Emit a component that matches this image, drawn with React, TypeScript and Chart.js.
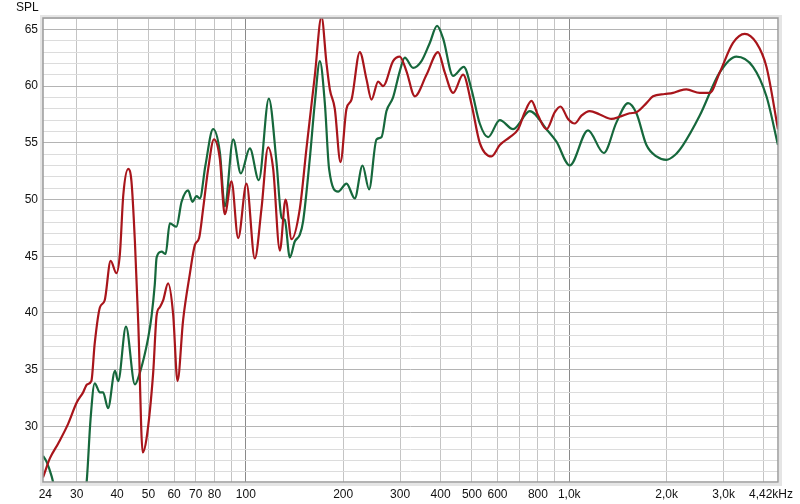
import React, { useEffect, useRef } from "react";
import { Chart, registerables } from "chart.js";

Chart.register(...registerables);

// Red trace (frequency Hz, SPL dB)
const RED_FREQ = [
  23.6, 24.8, 26.3, 28.2, 30.0, 31.4, 32.3, 33.3, 34.1, 35.4, 36.6, 38.2, 39.8, 40.8, 41.8, 43.3, 44.3,
  45.4, 46.5, 48.0, 49.3, 51.7, 53.0, 54.2, 55.5, 57.5, 59.6, 61.5, 64.0, 67.1, 69.6, 71.7, 73.8, 76.5,
  79.7, 83.1, 86.1, 90.3, 94.7, 100.5, 106.6, 111.8, 117.2, 121.5, 127.4, 132.7, 138.5, 146.9, 154.0,
  163.4, 171.4, 177.6, 181.9, 188.4, 196.2, 204.8, 212.2, 225.1, 236.1, 244.7, 256.5, 265.7, 285.3,
  299.2, 313.9, 333.0, 361.9, 393.0, 412.2, 437.3, 469.7, 498.6, 528.8, 574.8, 609.8, 655.1, 694.8,
  728.7, 764.2, 801.1, 850.3, 902.2, 939.4, 991.5, 1039.9, 1090.6, 1157.1, 1242.7, 1350.5, 1432.7,
  1538.3, 1613.3, 1732.4, 1815.6, 1973.2, 2093.5, 2195.6, 2302.9, 2531.8, 2718.2, 2919.2, 3208.4,
  3486.9, 3790.6, 4070.7, 4420,
];
const RED_SPL = [
  25.5, 27.2, 28.5, 30.2, 32.1, 33.0, 33.7, 34.0, 37.3, 40.5, 41.1, 44.6, 43.5, 45.2, 50.4, 52.7, 51.6,
  46.3, 39.1, 27.7, 28.9, 34.7, 39.8, 40.5, 41.1, 42.6, 39.9, 34.0, 39.4, 43.4, 46.0, 46.6, 49.2, 52.7,
  55.3, 53.6, 48.7, 51.6, 46.6, 51.4, 44.8, 49.2, 54.6, 52.7, 45.5, 50.0, 46.5, 49.2, 54.5,
  60.9, 66.1, 62.0, 59.7, 58.0, 53.3, 58.0, 58.8, 63.0, 60.6, 58.8, 60.4, 60.0, 62.2,
  62.6, 61.3, 59.1, 61.0, 63.0, 61.2, 59.4, 61.0, 58.4, 55.0, 53.8, 54.8, 55.5, 56.2,
  57.7, 58.7, 57.4, 56.2, 57.7, 58.2, 57.1, 56.7, 57.4, 57.8, 57.5, 57.1, 57.3,
  57.6, 57.7, 58.5, 59.1, 59.3, 59.4, 59.6, 59.7, 59.4, 59.4, 61.2, 63.8,
  64.6, 63.8, 61.7, 56.2,
];

// Green trace (frequency Hz, SPL dB)
const GREEN_FREQ = [
  23.6, 24.2, 25.1, 26.0, 29.0, 31.8, 32.3, 33.1, 34.1, 35.4, 36.2, 37.5, 39.4, 40.3, 42.6, 45.4, 47.0,
  49.9, 51.1, 52.3, 53.0, 54.9, 56.5, 58.2, 61.0, 63.3, 66.3, 68.4, 70.4, 72.1, 75.0, 79.2, 83.1, 86.1,
  91.4, 96.5, 102.9, 109.7, 117.8, 124.4, 129.0, 132.0, 136.8, 141.7, 146.9, 150.4, 157.7, 163.4,
  169.4, 175.5, 180.9, 192.9, 204.8, 217.2, 229.5, 240.5, 253.5, 262.7, 272.2, 285.3, 299.2, 310.1,
  329.0, 349.2, 370.5, 390.2, 407.3, 437.3, 472.0, 498.6, 528.8, 561.1, 609.8, 670.6, 755.1, 850.3,
  913.0, 1003.5, 1143.1, 1278.5, 1399.4, 1520.0, 1613.3, 1732.4, 1860.0, 1997.5, 2118.7, 2247.8,
  2531.8, 2919.2, 3286.7, 3700, 4070.7, 4420,
];
const GREEN_SPL = [
  27.4, 26.9, 25.6, 23.8, 21.0, 23.5, 25.6, 30.6, 33.8, 33.0, 33.0, 31.6, 34.9, 34.0, 38.8, 33.7, 34.7,
  37.8, 39.7, 42.5, 44.9, 45.4, 45.2, 47.9, 47.6, 49.8, 50.8, 49.8, 50.3, 50.1, 53.0, 56.2, 54.2, 49.4,
  55.3, 52.3, 54.5, 51.7, 58.9, 53.3, 48.4, 48.2, 44.9, 46.3, 46.9, 48.1, 53.6, 58.5,
  62.2, 58.5, 52.7, 50.7, 51.4, 50.1, 53.0, 50.9, 55.3, 55.5, 57.8, 59.0, 61.3, 62.5,
  61.6, 62.2, 63.8, 65.3, 64.2, 60.9, 61.7, 59.7, 56.7, 55.5, 57.0, 56.2, 57.8, 56.2,
  55.1, 53.0, 56.1, 54.1, 56.8, 58.5, 57.6, 54.8, 53.8, 53.5, 53.9, 54.8,
  57.4, 61.2, 62.6, 61.7, 59.1, 54.8,
];

// Axis ticks
const X_GRID_VALUES = [30, 40, 50, 60, 70, 80, 90, 100, 200, 300, 400, 500, 600, 700, 800, 900, 1000, 2000, 3000, 4000];
const X_LABEL_VALUES = [24, 30, 40, 50, 60, 70, 80, 100, 200, 300, 400, 500, 600, 800, 1000, 2000, 3000];
const X_LABEL_TEXT = ["24", "30", "40", "50", "60", "70", "80", "100", "200", "300", "400", "500", "600", "800", "1,0k", "2,0k", "3,0k"];
const X_END_LABEL = "4,42kHz";
const X_MIN = 23.6;
const X_MAX = 4420;
const Y_MIN = 25.1;
const Y_MAX = 66.0;
const Y_LABEL_STEP = 5;
const Y_TITLE = "SPL";

const RED = "#a8151b";
const GREEN = "#16683c";
const FONT_FAMILY = "'Liberation Sans', Arial, sans-serif";

const framePlugin = {
  id: "frame",
  afterDraw(chart: any) {
    const { ctx, chartArea: a } = chart;
    ctx.save();
    ctx.strokeStyle = "rgba(0,0,0,0.10)";
    ctx.lineWidth = 3;
    ctx.strokeRect(a.left - 1.5, a.top - 1.5, a.right - a.left + 4, a.bottom - a.top + 4);
    ctx.strokeStyle = "#9a9a9a";
    ctx.lineWidth = 1.5;
    ctx.strokeRect(a.left, a.top, a.right - a.left, a.bottom - a.top);
    ctx.fillStyle = "#111";
    ctx.font = "12px " + FONT_FAMILY;
    ctx.textBaseline = "middle";
    ctx.textAlign = "left";
    ctx.fillText(Y_TITLE, 16, 8);
    ctx.textAlign = "right";
    ctx.fillText(X_END_LABEL, a.right + 15, a.bottom + 12.5);
    ctx.restore();
  },
};

export default function App() {
  const ref = useRef<HTMLCanvasElement | null>(null);

  useEffect(() => {
    if (!ref.current) return;
    const red = RED_FREQ.map((f, i) => ({ x: f, y: RED_SPL[i] }));
    const green = GREEN_FREQ.map((f, i) => ({ x: f, y: GREEN_SPL[i] }));
    const xTickValues = Array.from(new Set([...X_GRID_VALUES, ...X_LABEL_VALUES])).sort((a, b) => a - b);
    const font = { family: FONT_FAMILY, size: 12 };

    const chart = new Chart(ref.current, {
      type: "line",
      data: {
        datasets: [
          {
            label: "Red",
            data: red,
            borderColor: RED,
            borderWidth: 2.2,
            pointRadius: 0,
            cubicInterpolationMode: "monotone",
            fill: false,
          },
          {
            label: "Green",
            data: green,
            borderColor: GREEN,
            borderWidth: 2.2,
            pointRadius: 0,
            cubicInterpolationMode: "monotone",
            fill: false,
          },
        ],
      },
      options: {
        animation: false,
        responsive: false,
        maintainAspectRatio: false,
        layout: { padding: { top: 18, right: 22, left: 0, bottom: 0 } },
        plugins: {
          legend: { display: false },
          tooltip: { enabled: false },
          title: { display: false },
        },
        scales: {
          x: {
            type: "logarithmic",
            min: X_MIN,
            max: X_MAX,
            afterBuildTicks: (axis: any) => {
              axis.ticks = xTickValues.map((v) => ({ value: v }));
            },
            afterFit: (axis: any) => {
              axis.height = 22;
              axis.paddingLeft = 0;
              axis.paddingRight = 0;
            },
            ticks: {
              autoSkip: false,
              maxRotation: 0,
              minRotation: 0,
              padding: 5,
              color: "#111",
              font,
              callback: (value: any) => {
                const i = X_LABEL_VALUES.indexOf(Number(value));
                return i >= 0 ? X_LABEL_TEXT[i] : "";
              },
            },
            grid: {
              drawTicks: false,
              lineWidth: 1,
              color: (c: any) => {
                const v = c.tick ? c.tick.value : 0;
                if (v === 100 || v === 1000) return "#8a8a8a";
                if (X_GRID_VALUES.indexOf(v) >= 0) return "#c4c4c4";
                return "rgba(0,0,0,0)";
              },
            },
            border: { display: false },
          },
          y: {
            type: "linear",
            min: Y_MIN,
            max: Y_MAX,
            afterBuildTicks: (axis: any) => {
              const t: any[] = [];
              for (let v = Math.ceil(Y_MIN); v <= Math.floor(Y_MAX); v++) t.push({ value: v });
              axis.ticks = t;
            },
            afterFit: (axis: any) => {
              axis.width = 43;
            },
            ticks: {
              autoSkip: false,
              padding: 5,
              color: "#111",
              font,
              callback: (value: any) => (Number(value) % Y_LABEL_STEP === 0 ? String(value) : ""),
            },
            grid: {
              drawTicks: false,
              lineWidth: 1,
              color: (c: any) => {
                const v = c.tick ? c.tick.value : 0;
                return v % Y_LABEL_STEP === 0 ? "#b4b4b4" : "#dcdcdc";
              },
            },
            border: { display: false },
          },
        },
      },
      plugins: [framePlugin],
    } as any);

    return () => chart.destroy();
  }, []);

  return (
    <div style={{ position: "absolute", left: 0, top: 0, width: 800, height: 504, background: "#fff" }}>
      <canvas ref={ref} width={800} height={504} style={{ display: "block", width: 800, height: 504 }} />
    </div>
  );
}
